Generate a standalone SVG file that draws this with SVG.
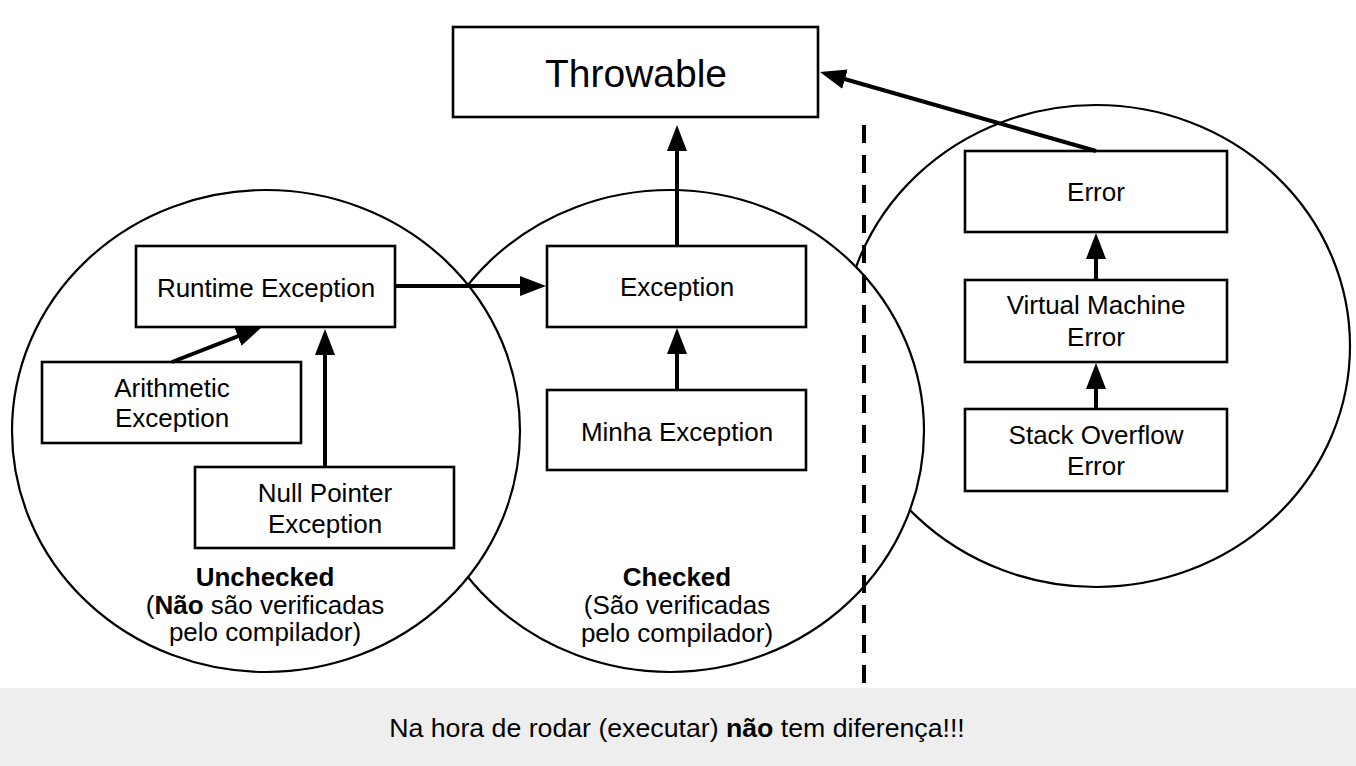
<svg xmlns="http://www.w3.org/2000/svg" width="1356" height="766" viewBox="0 0 1356 766">
<defs>
<style>
.region{fill:#fff;stroke:#000;stroke-width:2.2}
.box{fill:#fff;stroke:#000;stroke-width:2.6}
.t{font-family:"Liberation Sans",Arial,sans-serif;font-size:26px;fill:#000;text-anchor:middle}
.b{font-weight:bold}
.conn{stroke:#000;stroke-width:4;fill:none;marker-end:url(#arr)}
</style>
<marker id="arr" viewBox="0 0 26 20" refX="6" refY="10" markerWidth="26" markerHeight="20" markerUnits="userSpaceOnUse" orient="auto">
<path d="M0,0 L26,10 L0,20 z" fill="#000"/>
</marker>
</defs>
<rect width="1356" height="766" fill="#fff"/>
<rect x="0" y="688" width="1356" height="78" fill="#eeeeee"/>
<text class="t" x="677" y="737" style="font-size:26.7px">Na hora de rodar (executar) <tspan class="b">não</tspan> tem diferença!!!</text>

<g id="region-error"><ellipse class="region" cx="1096" cy="346" rx="254" ry="241"/></g>
<g id="region-checked"><ellipse class="region" cx="670" cy="431" rx="254" ry="241"/>
<text class="t"><tspan class="b" x="677" y="586">Checked</tspan><tspan x="677" y="614">(São verificadas</tspan><tspan x="677" y="642">pelo compilador)</tspan></text>
</g>
<g id="region-unchecked"><ellipse class="region" cx="266" cy="431" rx="254" ry="241"/>
<text class="t"><tspan class="b" x="265" y="586">Unchecked</tspan><tspan x="265" y="614">(<tspan class="b">Não</tspan> são verificadas</tspan><tspan x="265" y="641">pelo compilador)</tspan></text>
</g>

<g id="throwable"><rect class="box" x="453" y="27" width="365" height="90"/>
<text class="t" x="636" y="87" style="font-size:39px">Throwable</text></g>
<g id="exception"><rect class="box" x="547" y="246" width="259" height="81"/>
<text class="t" x="677" y="296">Exception</text></g>
<g id="minha"><rect class="box" x="547" y="390" width="259" height="80"/>
<text class="t" x="677" y="441">Minha Exception</text></g>
<g id="runtime"><rect class="box" x="136" y="246" width="259" height="81"/>
<text class="t" x="266" y="297">Runtime Exception</text></g>
<g id="arithmetic"><rect class="box" x="42" y="362" width="259" height="81"/>
<text class="t" x="172" y="397">Arithmetic</text>
<text class="t" x="172" y="427">Exception</text></g>
<g id="nullpointer"><rect class="box" x="195" y="467" width="259" height="81"/>
<text class="t" x="325" y="502">Null Pointer</text>
<text class="t" x="325" y="533">Exception</text></g>
<g id="error"><rect class="box" x="965" y="151" width="262" height="81"/>
<text class="t" x="1096" y="201">Error</text></g>
<g id="vmerror"><rect class="box" x="965" y="280" width="262" height="82"/>
<text class="t" x="1096" y="314">Virtual Machine</text>
<text class="t" x="1096" y="346">Error</text></g>
<g id="soerror"><rect class="box" x="965" y="409" width="262" height="82"/>
<text class="t" x="1096" y="444">Stack Overflow</text>
<text class="t" x="1096" y="475">Error</text></g>

<g id="connectors">
<line class="conn" x1="677" y1="246" x2="677" y2="145"/>
<line class="conn" x1="395" y1="286" x2="526" y2="286"/>
<line class="conn" x1="172" y1="362" x2="243.4" y2="334.2"/>
<line class="conn" x1="325" y1="467" x2="325" y2="349"/>
<line class="conn" x1="677" y1="390" x2="677" y2="348"/>
<line class="conn" x1="1096" y1="280" x2="1096" y2="253"/>
<line class="conn" x1="1096" y1="409" x2="1096" y2="383"/>
<line class="conn" x1="1096" y1="151" x2="839.2" y2="77.5"/>
</g>
<line id="divider" x1="864" y1="125" x2="864" y2="683" stroke="#000" stroke-width="4" stroke-dasharray="18 12"/>
</svg>
